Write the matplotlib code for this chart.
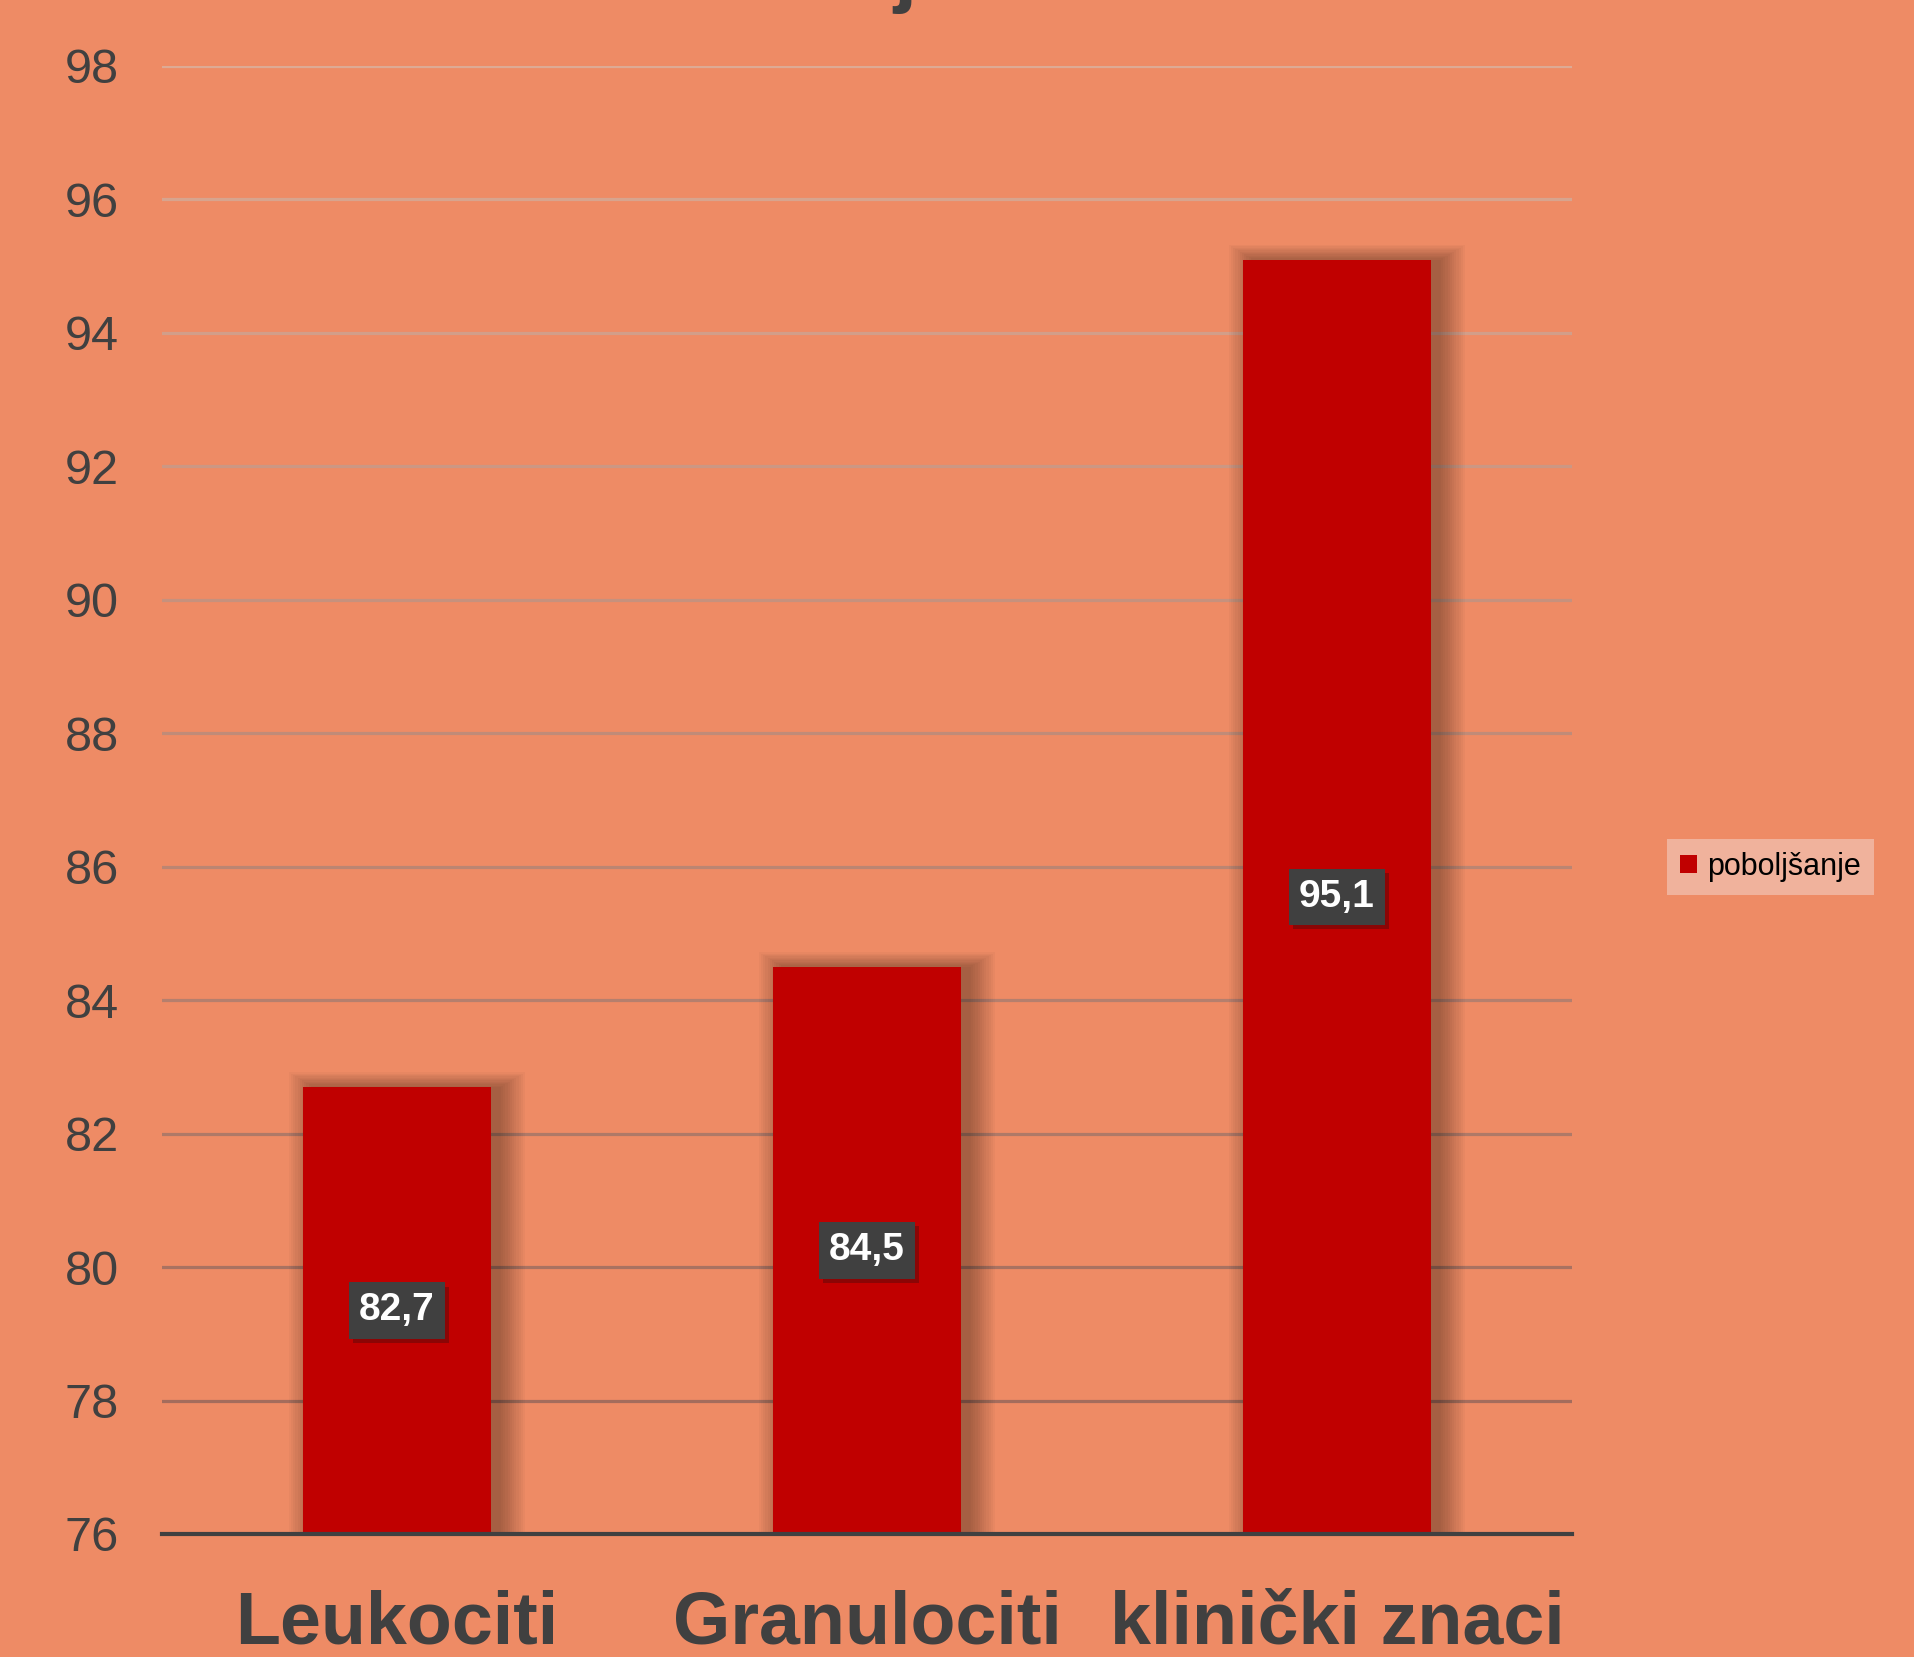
import numpy as np
import matplotlib.pyplot as plt
import matplotlib.patheffects as pe
from matplotlib.colors import to_rgb

categories = ['Leukociti', 'Granulociti', 'klinički znaci']
values = [82.7, 84.5, 95.1]
label_texts = ['82,7', '84,5', '95,1']
series_name = 'poboljšanje'
yticks = [76, 78, 80, 82, 84, 86, 88, 90, 92, 94, 96, 98]

BG = '#EE8B65'
BAR = '#C00000'
DARK = '#404040'

plt.rcParams['font.family'] = ['Liberation Sans', 'DejaVu Sans']

fig = plt.figure(figsize=(19.14, 16.57), dpi=100, facecolor=BG)
ax = fig.add_axes([162/1914, 1 - 1534/1657, 1410/1914, 1468/1657])
ax.set_facecolor(BG)

x = np.arange(len(categories))
ymin, ymax = yticks[0], yticks[-1]
ax.set_xlim(-0.5, len(categories) - 0.5)
ax.set_ylim(ymin, ymax)

# gridlines fade from light at the top to darker at the bottom
light = np.array(to_rgb('#DDAA94'))
dark = np.array(to_rgb('#9E6656'))
for t in yticks[1:]:
    f = (t - ymin) / (ymax - ymin)
    ax.axhline(t, color=light * f + dark * (1 - f), lw=2.3, zorder=1)

# soft shadow behind the bars, mostly to the right
px_x = 1 / 470.0
px_y = (ymax - ymin) / 1468.0
for k in range(12):
    grow = k * 2.2
    ax.bar(x + 10 * px_x, np.array(values) - ymin + grow * 0.6 * px_y,
           bottom=ymin, width=0.4 + 2 * grow * px_x, color='black',
           alpha=0.026, lw=0, zorder=2)

bars = ax.bar(x, np.array(values) - ymin, bottom=ymin, width=0.4,
              color=BAR, zorder=3, label=series_name)

for xi, v, s in zip(x, values, label_texts):
    t = ax.text(xi, (ymin + v) / 2, s, ha='center', va='center',
                color='white', fontsize=28, fontweight='bold', zorder=5,
                bbox=dict(boxstyle='square,pad=0.26', fc=DARK, ec='none'))
    t.get_bbox_patch().set_path_effects(
        [pe.SimplePatchShadow(offset=(3, -3), alpha=0.3), pe.Normal()])

for sp in ['top', 'right', 'left']:
    ax.spines[sp].set_visible(False)
ax.spines['bottom'].set_color(DARK)
ax.spines['bottom'].set_linewidth(3)
ax.spines['bottom'].set_zorder(6)

ax.set_yticks(yticks)
ax.tick_params(axis='y', length=0, pad=31, labelsize=35, labelcolor=DARK)
ax.set_xticks(x)
ax.set_xticklabels(categories, fontsize=53, fontweight='bold', color=DARK)
ax.tick_params(axis='x', length=0, pad=40)

leg = fig.legend(handles=[bars], loc='center left',
                 bbox_to_anchor=(1667/1914, 1 - 867/1657),
                 frameon=True, fancybox=False, framealpha=1,
                 facecolor='#F0B29C', edgecolor='none', fontsize=22,
                 handlelength=0.55, handleheight=0.55, handletextpad=0.35,
                 borderpad=0.42, borderaxespad=0)

# the chart title sits above the visible area; only a descender shows
fig.text(905/1914, 1 + 3/1657, 'j', ha='center', va='baseline',
         fontsize=60, fontweight='bold', color=DARK)

fig.savefig('out.png', dpi=100, facecolor=BG)
